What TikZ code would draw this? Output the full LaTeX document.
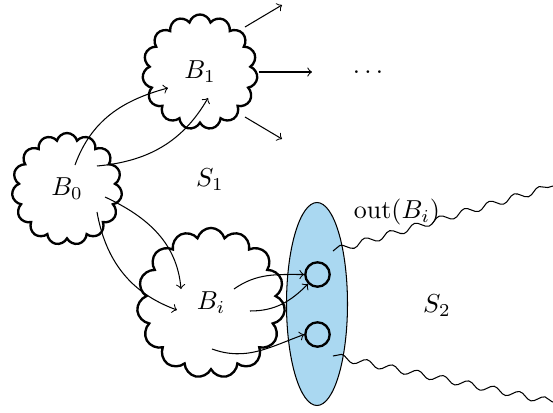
\documentclass[tikz,border=0pt]{standalone}
\usetikzlibrary{shapes.symbols,shapes.geometric,decorations.pathmorphing,arrows}
\definecolor{ovalblue}{RGB}{170,216,241}
\tikzset{
  cloudbox/.style={cloud, cloud puffs=15, cloud puff arc=150, aspect=1, draw, line width=0.9pt, inner sep=0pt},
  conn/.style={->, line width=0.4pt},
  portc/.style={circle, draw, line width=0.9pt, minimum size=9.4pt, inner sep=0pt},
  wavy/.style={decorate, decoration={snake, amplitude=1.3pt, segment length=10pt}, line width=0.4pt}
}
\begin{document}
\begin{tikzpicture}[x=0.385pt,y=-0.385pt]
\useasboundingbox (0,0) rectangle (553,413);
% ellipse
\node (ov) [ellipse, draw, fill=ovalblue, line width=0.4pt, minimum width=61*0.385pt, minimum height=203*0.385pt, inner sep=0pt] at (317,304) {};
% clouds
\node (B0) [cloudbox, minimum width=42.4pt, minimum height=43.1pt] at (67,189) {$B_0$};
\node (B1) [cloudbox, minimum width=44.3pt, minimum height=44.3pt] at (200,72) {$B_1$};
\node (Bi) [cloudbox, minimum width=57pt, minimum height=57.8pt] at (211,303) {$B_i$};
% ports
\node (p1) [portc] at (317.5,274.5) {};
\node (p2) [portc] at (317.5,334.5) {};
% labels
\node (S1) at (210,180) {$S_1$};
\node (S2) at (437,306) {$S_2$};
\node (outl) at (397,212) {$\mathrm{out}(B_i)$};
\node (dots) at (368,72) {$\dots$};
% coordinates
\coordinate (a1) at (75,165);
\coordinate (a2) at (97,166);
\coordinate (a3) at (105,197);
\coordinate (a4) at (97,212);
\coordinate (b1) at (168,88);
\coordinate (b2) at (208,98);
\coordinate (c1) at (181,289);
\coordinate (c2) at (177,310);
\coordinate (d1) at (234,289);
\coordinate (d2) at (250,311);
\coordinate (d3) at (212,349);
\coordinate (e1) at (245,27);
\coordinate (e1t) at (282,5);
\coordinate (e2) at (259,72);
\coordinate (e2t) at (312,72);
\coordinate (e3) at (245,117);
\coordinate (e3t) at (282,139);
\coordinate (w1s) at (333,251);
\coordinate (w1e) at (553,186);
\coordinate (w2s) at (333,356);
\coordinate (w2e) at (553,402);
% B0 -> B1
\draw[conn] (a1) to[out=70,in=195] (b1);
\draw[conn] (a2) to[out=5,in=240] (b2);
% B0 -> Bi
\draw[conn] (a3) to[out=-25,in=95] (c1);
\draw[conn] (a4) to[out=-80,in=160] (c2);
% Bi -> ports
\draw[conn] (d1) to[out=35,in=180] (p1.west);
\draw[conn] (d2) to[out=0,in=225] (p1.south west);
\draw[conn] (d3) to[out=-20,in=200] (p2.west);
% B1 outgoing
\draw[conn] (e1) -- (e1t);
\draw[conn] (e2) -- (e2t);
\draw[conn] (e3) -- (e3t);
% wavy
\draw[wavy] (w1s) -- (w1e);
\draw[wavy] (w2s) -- (w2e);
\end{tikzpicture}
\end{document}
